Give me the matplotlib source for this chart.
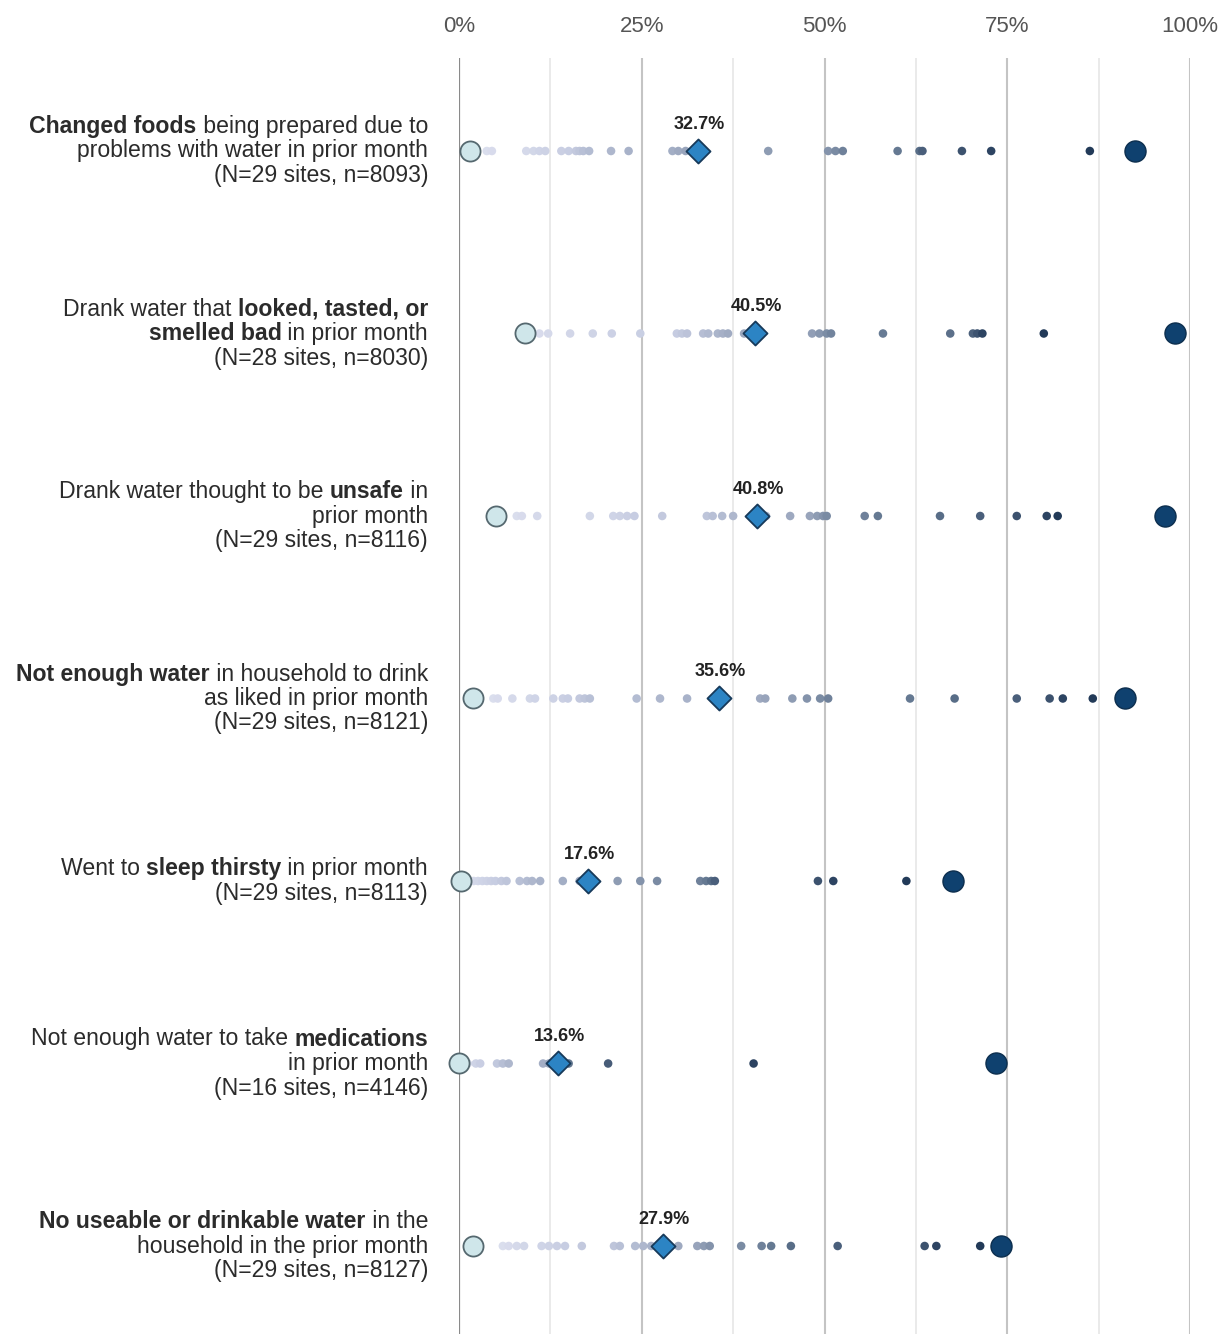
import matplotlib
matplotlib.use("Agg")
import matplotlib.pyplot as plt
import numpy as np
from matplotlib.colors import LinearSegmentedColormap

FONT = ["Liberation Sans", "DejaVu Sans"]
plt.rcParams["font.family"] = FONT

# ---- data -----------------------------------------------------------------
labels = [
    [[("Changed foods", True), (" being prepared due to", False)],
     [("problems with water in prior month", False)],
     [("(N=29 sites, n=8093)", False)]],
    [[("Drank water that ", False), ("looked, tasted, or", True)],
     [("smelled bad", True), (" in prior month", False)],
     [("(N=28 sites, n=8030)", False)]],
    [[("Drank water thought to be ", False), ("unsafe", True), (" in", False)],
     [("prior month", False)],
     [("(N=29 sites, n=8116)", False)]],
    [[("Not enough water", True), (" in household to drink", False)],
     [("as liked in prior month", False)],
     [("(N=29 sites, n=8121)", False)]],
    [[("Went to ", False), ("sleep thirsty", True), (" in prior month", False)],
     [("(N=29 sites, n=8113)", False)]],
    [[("Not enough water to take ", False), ("medications", True)],
     [("in prior month", False)],
     [("(N=16 sites, n=4146)", False)]],
    [[("No useable or drinkable water", True), (" in the", False)],
     [("household in the prior month", False)],
     [("(N=29 sites, n=8127)", False)]],
]

changed_foods = [1.5, 3.8, 4.5, 9.2, 10.2, 11.0, 11.8, 14.0, 15.0, 16.0, 16.5, 17.0, 17.8,
                 20.8, 23.2, 29.2, 30.0, 31.0, 42.3, 50.5, 51.5, 52.5, 60.0, 63.0, 63.4,
                 68.8, 72.8, 86.3, 92.5]
looked_bad = [9.0, 10.0, 11.0, 12.2, 15.2, 18.3, 20.9, 24.8, 29.8, 30.5, 31.2, 33.4, 34.1,
              35.4, 36.1, 36.8, 39.0, 48.3, 49.3, 50.3, 50.9, 58.0, 67.2, 70.3, 70.9, 71.6,
              80.0, 98.0]
unsafe = [5.0, 7.9, 8.6, 10.7, 17.9, 21.1, 22.0, 23.0, 24.0, 27.8, 33.9, 34.7, 36.0, 37.5,
          40.0, 42.0, 45.3, 48.0, 49.0, 49.8, 50.3, 55.5, 57.3, 65.8, 71.3, 76.3, 80.4, 81.9,
          96.6]
not_enough_drink = [1.9, 4.7, 5.3, 7.3, 9.7, 10.4, 12.9, 14.2, 14.9, 16.5, 17.2, 17.9, 24.3,
                    27.5, 31.2, 36.0, 41.2, 41.9, 45.6, 47.6, 49.4, 50.5, 61.7, 67.8, 76.3,
                    80.8, 82.6, 86.7, 91.1]
sleep_thirsty = [0.3, 0.8, 1.2, 2.0, 2.6, 3.2, 3.8, 4.4, 5.0, 5.8, 6.5, 8.3, 9.3, 10.0, 11.1,
                 14.2, 16.5, 18.0, 21.7, 24.8, 27.1, 33.0, 33.8, 34.5, 35.0, 49.1, 51.2, 61.2,
                 67.6]
medications = [0.0, 0.6, 1.2, 2.3, 2.9, 5.2, 6.0, 6.8, 11.5, 12.3, 13.0, 14.2, 15.0, 20.4,
               40.3, 73.4]
no_useable = [1.9, 6.0, 6.8, 7.9, 8.9, 11.3, 12.3, 13.4, 14.5, 16.8, 21.2, 22.0, 24.1, 25.2,
              26.3, 28.5, 30.0, 32.6, 33.5, 34.3, 38.6, 41.4, 42.7, 45.4, 51.8, 63.7, 65.3,
              71.3, 74.1]

site_values = [changed_foods, looked_bad, unsafe, not_enough_drink, sleep_thirsty,
               medications, no_useable]
pooled = [32.7, 40.5, 40.8, 35.6, 17.6, 13.6, 27.9]

tick_values = [0, 25, 50, 75, 100]
tick_labels = ["0%", "25%", "50%", "75%", "100%"]

# ---- figure ---------------------------------------------------------------
W, H = 1225, 1334
fig = plt.figure(figsize=(W / 100, H / 100), dpi=100)

x0_px, x1_px = 459, 1190
top_px = 58
row0_px, row_step = 151, 182.5
ax = fig.add_axes([x0_px / W, 0, (x1_px - x0_px) / W, 1 - top_px / H])
ax.set_xlim(0, 100)
ax.set_ylim((H - row0_px) / row_step, (top_px - row0_px) / row_step)
for s in ax.spines.values():
    s.set_visible(False)
ax.set_yticks([])
ax.xaxis.tick_top()
ax.set_xticks(tick_values)
ax.set_xticklabels(tick_labels, fontsize=16, color="#555555")
ax.tick_params(axis="x", length=0, pad=15)

# grid: quarter lines darker, eighth lines faint, zero line darkest
for g in np.arange(0, 100.1, 12.5):
    if g == 0:
        c, lw = "#8a8a8a", 1.6
    elif g % 25 == 0:
        c, lw = "#c4c4c4", 1.5
    else:
        c, lw = "#e6e6e6", 1.2
    ax.axvline(g, color=c, lw=lw, zorder=0)

cmap = LinearSegmentedColormap.from_list(
    "sites",
    [(0.0, "#dde0ef"), (0.3, "#c6cce1"), (0.6, "#9aa6bd"), (0.8, "#62768f"),
     (0.93, "#2d4462"), (1.0, "#16304d")])

for i, vals in enumerate(site_values):
    v = np.sort(np.array(vals))
    n = len(v)
    t = np.arange(n) / (n - 1)
    mid = v[1:-1]
    ax.scatter(mid, np.full(mid.size, i), s=38, c=cmap(t[1:-1]), edgecolors="none",
               zorder=2, clip_on=False)
    # lowest site
    ax.scatter([v[0]], [i], s=210, facecolor="#cfe6ea", edgecolor="#55686f", lw=1.3,
               zorder=4, clip_on=False)
    # highest site
    ax.scatter([v[-1]], [i], s=230, facecolor="#0f416f", edgecolor="#0c2e4e", lw=1.0,
               zorder=4, clip_on=False)
    # pooled estimate
    ax.scatter([pooled[i]], [i], marker="D", s=150, facecolor="#2c84c4", edgecolor="#173a5a",
               lw=1.3, zorder=3, clip_on=False)
    ax.annotate(f"{pooled[i]:.1f}%", (pooled[i], i), xytext=(1, 13), textcoords="offset points",
                ha="center", va="bottom", fontsize=13, fontweight="bold", color="#222222")

# ---- row labels with mixed weights ---------------------------------------
renderer = fig.canvas.get_renderer()
label_x = 428
line_gap = 24.5
for i, lines in enumerate(labels):
    yc = row0_px + row_step * i
    n = len(lines)
    for j, segs in enumerate(lines):
        y = yc + (j - (n - 1) / 2) * line_gap
        x = label_x
        for text, bold in reversed(segs):
            t = fig.text(x / W, 1 - y / H, text, ha="right", va="center", fontsize=16.6,
                         fontweight="bold" if bold else "normal", color="#2b2b2b")
            bb = t.get_window_extent(renderer)
            x = bb.x0

fig.savefig("out.png", dpi=100)
